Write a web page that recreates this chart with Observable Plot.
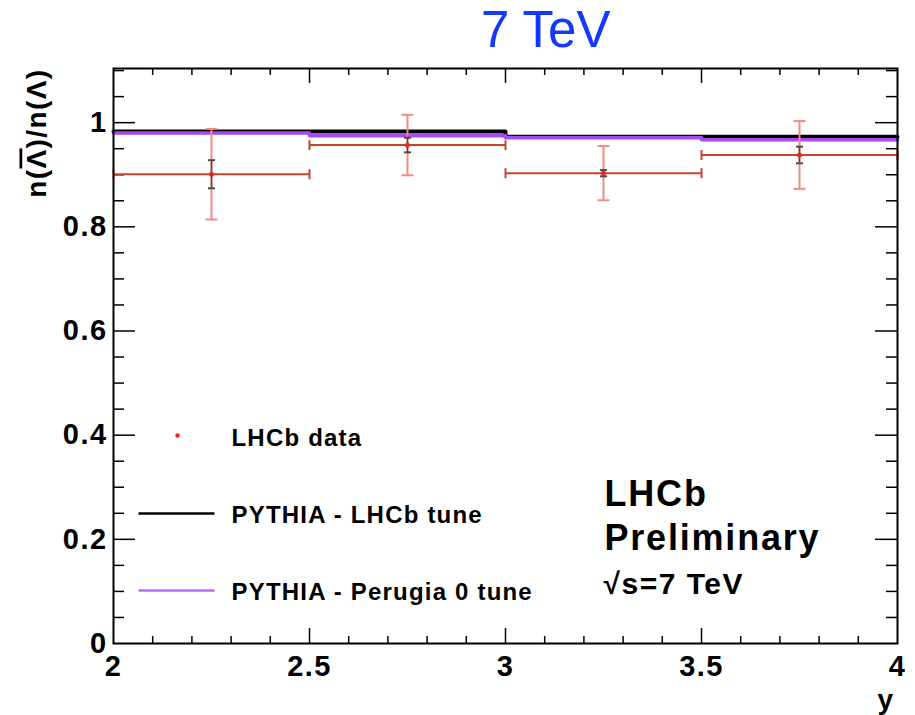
<!DOCTYPE html>
<html>
<head>
<meta charset="utf-8">
<script src="https://cdn.jsdelivr.net/npm/d3@7"></script>
<script src="https://cdn.jsdelivr.net/npm/@observablehq/plot@0.6"></script>
<style>
  html, body { margin: 0; padding: 0; background: #fff; }
  #wrap { position: relative; width: 915px; }
  #title { position: relative; height: 58px; line-height: 60px; font-family: "Liberation Sans", Arial, sans-serif; font-size: 51px; color: #1438ff; }
  #title span { position: absolute; left: 481px; top: 0; white-space: nowrap; }
</style>
</head>
<body>
<div id="wrap">
  <div id="title"><span>7 TeV</span></div>
  <div id="chart"></div>
</div>
<script>
// ---- data ----
const binEdges   = [2, 2.5, 3, 3.5, 4];
const binCenters = [2.25, 2.75, 3.25, 3.75];
const lhcbData   = [0.901, 0.957, 0.903, 0.938];
const totalErr   = [0.087, 0.058, 0.052, 0.065];
const statErr    = [0.027, 0.014, 0.006, 0.016];
const pythiaLHCb    = [0.983, 0.983, 0.973, 0.973];
const pythiaPerugia = [0.980, 0.975, 0.971, 0.967];

const xMajor = [2, 2.5, 3, 3.5, 4];
const xMinor = [2.1, 2.2, 2.3, 2.4, 2.6, 2.7, 2.8, 2.9, 3.1, 3.2, 3.3, 3.4, 3.6, 3.7, 3.8, 3.9];
const yMajor = [0, 0.2, 0.4, 0.6, 0.8, 1];
const yMinor = [0.05, 0.1, 0.15, 0.25, 0.3, 0.35, 0.45, 0.5, 0.55, 0.65, 0.7, 0.75, 0.85, 0.9, 0.95, 1.05, 1.1];

const legendLabels = ["LHCb data", "PYTHIA - LHCb tune", "PYTHIA - Perugia 0 tune"];
const yTitleParts = ["n(", "\u039B", ")/n(\u039B)"];   // middle part carries the overline (anti-Lambda)
const yTitle = yTitleParts.join("");
const xTitle = "y";
const stampLines = ["LHCb", "Preliminary", "√s=7 TeV"];

// ---- derived tables ----
const points = binCenters.map((c, i) => ({
  c, lo: binEdges[i], hi: binEdges[i + 1], v: lhcbData[i],
  t1: lhcbData[i] - totalErr[i], t2: lhcbData[i] + totalErr[i],
  s1: lhcbData[i] - statErr[i], s2: lhcbData[i] + statErr[i]
}));
const stepData = vals => binEdges.map((e, i) => ({x: e, y: vals[Math.min(i, vals.length - 1)]}));

// custom symbols: line segments centred on the point
const hLine = {draw(ctx, size) { const r = Math.sqrt(size / Math.PI); ctx.moveTo(-r, 0); ctx.lineTo(r, 0); }};
const vLine = {draw(ctx, size) { const r = Math.sqrt(size / Math.PI); ctx.moveTo(0, -r); ctx.lineTo(0, r); }};

const W = 915, H = 657;
const mL = 113, mR = 18, mT = 10, mB = 72;
const PW = W - mL - mR, PH = H - mT - mB;

const font = "Liberation Sans, Arial, Helvetica, sans-serif";
const darkRed = "#c9422f", lightRed = "#f08a82", ptRed = "#e8281e", grey = "#4a4a4a";
const purple = "#a64af2";

const chart = Plot.plot({
  width: W, height: H,
  marginLeft: mL, marginRight: mR, marginTop: mT, marginBottom: mB,
  style: {fontFamily: font, background: "#fff", overflow: "visible"},
  x: {domain: [2, 4]},
  y: {domain: [0, 1.104]},
  marks: [
    // axis labels
    Plot.axisX({ticks: xMajor, tickSize: 0, tickPadding: 12, label: null, fontSize: 29, fontWeight: "bold", tickFormat: d => String(d)}),
    Plot.axisY({ticks: yMajor, tickSize: 0, tickPadding: 6, label: null, fontSize: 29, fontWeight: "bold", tickFormat: d => String(d)}),
    // inward ticks
    Plot.tickY(yMajor.filter(d => d > 0), {y: d => d, insetRight: PW - 22, stroke: "black", strokeWidth: 1.5}),
    Plot.tickY(yMinor, {y: d => d, insetRight: PW - 11, stroke: "black", strokeWidth: 1.5}),
    Plot.tickY(yMajor.filter(d => d > 0), {y: d => d, insetLeft: PW - 22, stroke: "black", strokeWidth: 1.5}),
    Plot.tickY(yMinor, {y: d => d, insetLeft: PW - 11, stroke: "black", strokeWidth: 1.5}),
    Plot.tickX(xMajor.slice(1, -1), {x: d => d, insetTop: PH - 15, stroke: "black", strokeWidth: 1.5}),
    Plot.tickX(xMinor, {x: d => d, insetTop: PH - 7, stroke: "black", strokeWidth: 1.5}),
    Plot.tickX(xMajor.slice(1, -1), {x: d => d, insetBottom: PH - 15, stroke: "black", strokeWidth: 1.5}),
    Plot.tickX(xMinor, {x: d => d, insetBottom: PH - 7, stroke: "black", strokeWidth: 1.5}),
    // MC histograms
    Plot.line(stepData(pythiaLHCb), {x: "x", y: "y", curve: "step-after", stroke: "black", strokeWidth: 4}),
    Plot.line(stepData(pythiaPerugia), {x: "x", y: "y", curve: "step-after", stroke: purple, strokeWidth: 3.5}),
    // data: total error (light red)
    Plot.ruleX(points, {x: "c", y1: "t1", y2: "t2", stroke: lightRed, strokeWidth: 2}),
    Plot.dot(points, {x: "c", y: "t1", symbol: hLine, r: 6, stroke: lightRed, strokeWidth: 2, fill: "none"}),
    Plot.dot(points, {x: "c", y: "t2", symbol: hLine, r: 6, stroke: lightRed, strokeWidth: 2, fill: "none"}),
    // data: stat error (grey)
    Plot.ruleX(points, {x: "c", y1: "s1", y2: "s2", stroke: grey, strokeWidth: 1.5}),
    Plot.dot(points, {x: "c", y: "s1", symbol: hLine, r: 3.5, stroke: grey, strokeWidth: 2, fill: "none"}),
    Plot.dot(points, {x: "c", y: "s2", symbol: hLine, r: 3.5, stroke: grey, strokeWidth: 2, fill: "none"}),
    // data: bin widths
    Plot.ruleY(points, {x1: "lo", x2: "hi", y: "v", stroke: darkRed, strokeWidth: 2}),
    Plot.dot(points, {x: "lo", y: "v", symbol: vLine, r: 5, stroke: darkRed, strokeWidth: 2, fill: "none"}),
    Plot.dot(points, {x: "hi", y: "v", symbol: vLine, r: 5, stroke: darkRed, strokeWidth: 2, fill: "none"}),
    Plot.dot(points, {x: "c", y: "v", r: 2.5, fill: ptRed, stroke: "none"}),
    // frame
    Plot.frame({stroke: "black", strokeWidth: 2}),
    // legend
    Plot.dot([0], {frameAnchor: "top-left", dx: 64, dy: 367, r: 2.2, fill: ptRed, stroke: "none"}),
    Plot.dot([0], {frameAnchor: "top-left", dx: 63, dy: 445, symbol: hLine, r: 38, stroke: "black", strokeWidth: 2.5, fill: "none"}),
    Plot.dot([0], {frameAnchor: "top-left", dx: 63, dy: 522, symbol: hLine, r: 38, stroke: "#b86cf5", strokeWidth: 2.5, fill: "none"}),
    Plot.text([legendLabels[0]], {frameAnchor: "top-left", dx: 118, dy: 377, text: d => d, textAnchor: "start", lineAnchor: "bottom", fontSize: 24, fontWeight: "bold", fill: "black"}),
    Plot.text([legendLabels[1]], {frameAnchor: "top-left", dx: 118, dy: 454, text: d => d, textAnchor: "start", lineAnchor: "bottom", fontSize: 24, fontWeight: "bold", fill: "black"}),
    Plot.text([legendLabels[2]], {frameAnchor: "top-left", dx: 118, dy: 531, text: d => d, textAnchor: "start", lineAnchor: "bottom", fontSize: 24, fontWeight: "bold", fill: "black"}),
    // LHCb stamp
    Plot.text([stampLines[0]], {frameAnchor: "top-left", dx: 491, dy: 437, text: d => d, textAnchor: "start", lineAnchor: "bottom", fontSize: 36, fontWeight: "bold", fill: "black"}),
    Plot.text([stampLines[1]], {frameAnchor: "top-left", dx: 491, dy: 481, text: d => d, textAnchor: "start", lineAnchor: "bottom", fontSize: 36, fontWeight: "bold", fill: "black"}),
    Plot.text([stampLines[2]], {frameAnchor: "top-left", dx: 490, dy: 525, text: d => d, textAnchor: "start", lineAnchor: "bottom", fontSize: 30, fontWeight: "bold", fill: "black"}),
    // axis titles
    Plot.text([yTitle], {frameAnchor: "top-left", dx: -76, dy: 0, rotate: -90, text: d => d, textAnchor: "end", lineAnchor: "middle", fontSize: 28, fontWeight: "bold", fill: "black"}),
    Plot.text([xTitle], {frameAnchor: "bottom-right", dx: -3, dy: 65, text: d => d, textAnchor: "end", lineAnchor: "bottom", fontSize: 28, fontWeight: "bold", fill: "black"})
  ]
});
// slightly wider glyph spacing to match the reference's bold Helvetica
chart.querySelectorAll("text").forEach(t => {
  t.style.letterSpacing = "0.05em";
  if (t.textContent === yTitle) {
    // rebuild as tspans so the first Lambda carries an overline (anti-Lambda)
    while (t.firstChild) t.removeChild(t.firstChild);
    yTitleParts.forEach((p, i) => {
      const ts = document.createElementNS("http://www.w3.org/2000/svg", "tspan");
      ts.textContent = p;
      if (i === 1) ts.style.textDecoration = "overline";
      t.appendChild(ts);
    });
  }
});
document.getElementById("chart").appendChild(chart);
</script>
</body>
</html>
